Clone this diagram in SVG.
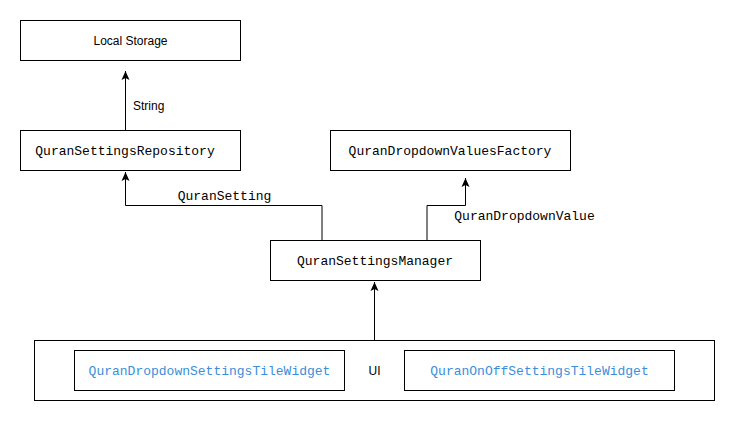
<svg xmlns="http://www.w3.org/2000/svg" width="735" height="421" viewBox="0 0 735 421">
<style>
.box{fill:#fff;stroke:#000;stroke-width:1}
.mono{font-family:"Liberation Mono","Courier New",monospace;font-size:13px;fill:#000}
.blue{fill:#3a8edb}
.sans{font-family:"Liberation Sans",Arial,sans-serif;font-size:12px;fill:#000}
.edge{fill:none;stroke:#000;stroke-width:1}
</style>
<defs>
<marker id="arr" markerUnits="userSpaceOnUse" markerWidth="12" markerHeight="10" viewBox="-10 -5 12 10" refX="0" refY="0" orient="auto">
<path d="M0,0 L-9,-4 L-7,0 L-9,4 Z" fill="#000"/>
</marker>
</defs>
<rect width="735" height="421" fill="#fff"/>
<g id="ui-container">
<rect class="box" x="34.5" y="340.5" width="680" height="60"/>
<text class="sans" x="374.5" y="375" text-anchor="middle">UI</text>
</g>
<g id="local-storage">
<rect class="box" x="20.5" y="20.5" width="220" height="40"/>
<text class="sans" x="130.5" y="45" text-anchor="middle">Local Storage</text>
</g>
<g id="repository">
<rect class="box" x="20.5" y="130.5" width="220" height="40"/>
<text class="mono" x="125" y="155" text-anchor="middle">QuranSettingsRepository</text>
</g>
<g id="factory">
<rect class="box" x="330.5" y="130.5" width="240" height="40"/>
<text class="mono" x="450" y="155" text-anchor="middle">QuranDropdownValuesFactory</text>
</g>
<g id="manager">
<rect class="box" x="270.5" y="240.5" width="210" height="40"/>
<text class="mono" x="375" y="265" text-anchor="middle">QuranSettingsManager</text>
</g>
<g id="dropdown-widget">
<rect class="box" x="74.5" y="350.5" width="270" height="40"/>
<text class="mono blue" x="209.5" y="375" text-anchor="middle">QuranDropdownSettingsTileWidget</text>
</g>
<g id="onoff-widget">
<rect class="box" x="404.5" y="350.5" width="270" height="40"/>
<text class="mono blue" x="539.5" y="375" text-anchor="middle">QuranOnOffSettingsTileWidget</text>
</g>
<g id="connectors">
<path class="edge" d="M125.5,130.5 V71" marker-end="url(#arr)"/>
<text class="sans" x="133" y="110">String</text>
<path class="edge" d="M322,240.5 V205.5 H125.5 V172" marker-end="url(#arr)"/>
<text class="mono" x="224.5" y="200" text-anchor="middle">QuranSetting</text>
<path class="edge" d="M427,240.5 V205.5 H465.5 V178" marker-end="url(#arr)"/>
<text class="mono" x="524.5" y="220" text-anchor="middle">QuranDropdownValue</text>
<path class="edge" d="M374.5,340.5 V282" marker-end="url(#arr)"/>
</g>
</svg>
